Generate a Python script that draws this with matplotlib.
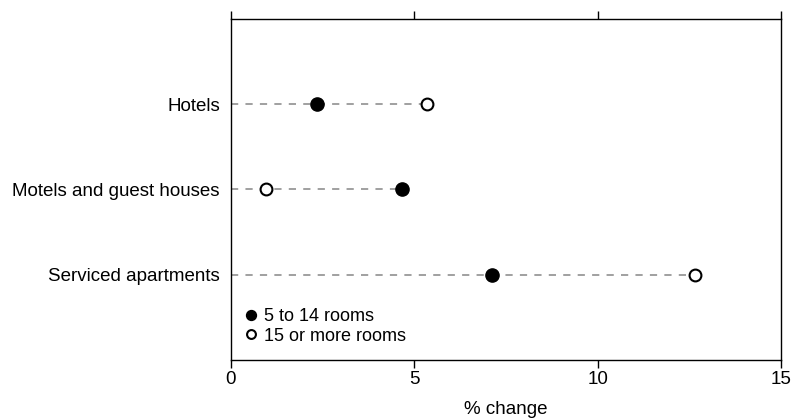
import numpy as np
import matplotlib.pyplot as plt

plt.rcParams['font.family'] = ['Liberation Sans', 'DejaVu Sans']

categories = ["Hotels", "Motels and guest houses", "Serviced apartments"]
small = [2.34, 4.66, 7.13]     # 5 to 14 rooms
large = [5.35, 0.96, 12.65]    # 15 or more rooms

fig = plt.figure(figsize=(7.96, 4.19), dpi=100)
ax = fig.add_axes([0.2902, 0.1408, 0.691, 0.8139])

ypos = np.arange(1, len(categories) + 1)
for y, a, b in zip(ypos, small, large):
    ax.plot([0, max(a, b)], [y, y], color="#999999", linestyle=(0, (4, 4)), linewidth=1.3, zorder=1)

ax.plot(small, ypos, "o", color="black", markersize=9.5, linestyle="none", label="5 to 14 rooms", zorder=3)
ax.plot(large, ypos, "o", markerfacecolor="white", markeredgecolor="black", markeredgewidth=1.5,
        markersize=8.5, linestyle="none", label="15 or more rooms", zorder=3)

ax.set_xlim(0, 15)
ax.set_ylim(4, 0)
ax.set_xticks([0, 5, 10, 15])
ax.set_yticks(ypos)
ax.set_yticklabels(categories, fontsize=13.5)
ax.tick_params(axis="y", length=0, pad=8)
ax.tick_params(axis="x", labelsize=13.5, length=6, width=1, direction="out", top=True, pad=2)
ax.set_xlabel("% change", fontsize=13.5, labelpad=9)
for s in ax.spines.values():
    s.set_linewidth(1)

ax.legend(loc="lower left", bbox_to_anchor=(0.017, 0.045), frameon=False, fontsize=13,
          handletextpad=0.1, borderaxespad=0, borderpad=0,
          labelspacing=0.15, handlelength=1.2, markerscale=0.75)

plt.savefig("out.png", dpi=100)
